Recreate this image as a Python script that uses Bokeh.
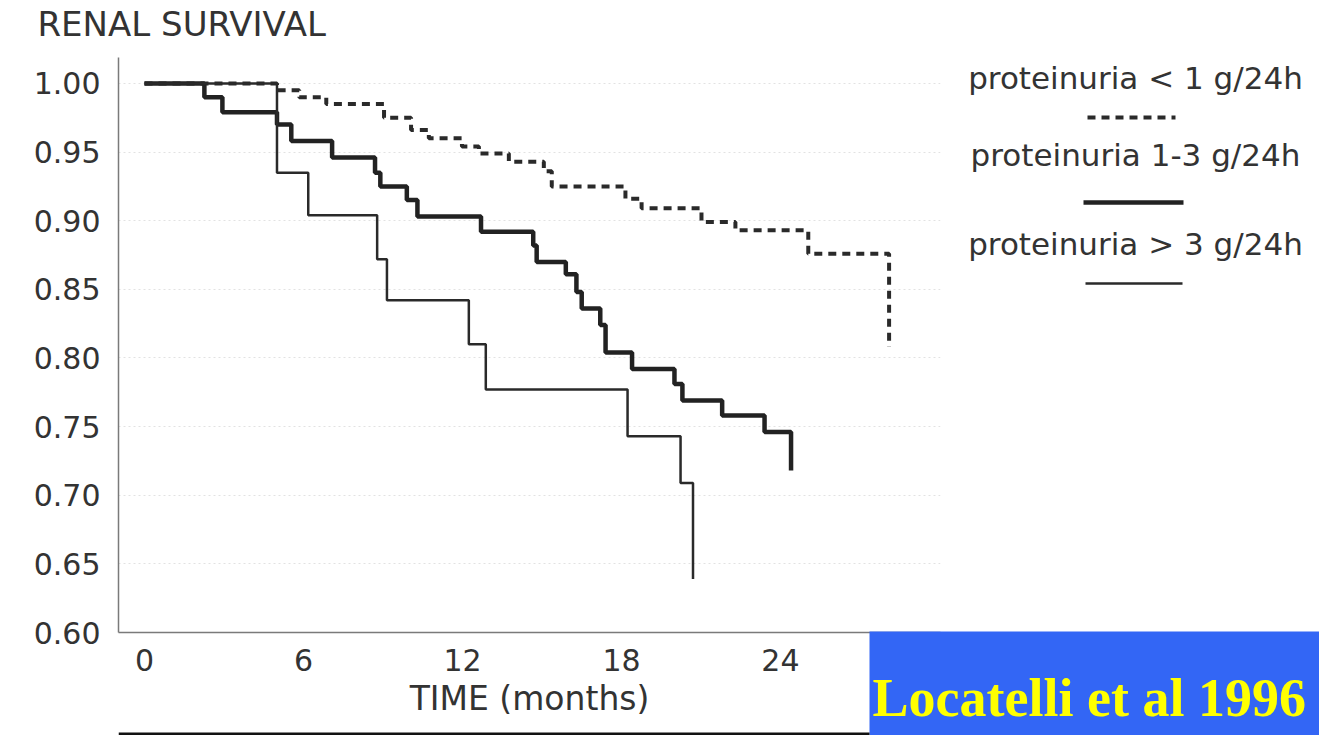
from bokeh.plotting import figure
from bokeh.models import (Label, BoxAnnotation, Arrow, Range1d, FixedTicker,
                          NumeralTickFormatter, GridBox, Title)
from bokeh.embed import file_html
from bokeh.resources import INLINE

# ---------------- data ----------------
time_lt1 = [0, 5.0, 5.84, 6.86, 9.04, 10.06, 10.73, 11.98, 12.62, 13.75, 15.07, 15.37,
            18.15, 18.76, 21.02, 22.3, 25.05, 28.1]
surv_lt1 = [1.0, 0.995, 0.99, 0.985, 0.975, 0.966, 0.96, 0.954, 0.949, 0.943, 0.936, 0.925,
            0.916, 0.909, 0.899, 0.893, 0.876, 0.808]

time_1to3 = [0, 2.26, 2.94, 5.0, 5.54, 7.08, 8.7, 8.9, 9.9, 10.3, 12.7, 14.67, 14.8, 15.9,
             16.3, 16.5, 17.2, 17.4, 18.4, 20.0, 20.3, 21.8, 23.4, 24.4]
surv_1to3 = [1.0, 0.990, 0.979, 0.970, 0.958, 0.946, 0.935, 0.925, 0.915, 0.903, 0.892, 0.882,
             0.870, 0.861, 0.848, 0.836, 0.824, 0.804, 0.792, 0.781, 0.769, 0.758, 0.746, 0.718]

time_gt3 = [0, 5.0, 6.18, 8.78, 9.15, 12.24, 12.88, 18.23, 20.23, 20.7]
surv_gt3 = [1.0, 0.935, 0.904, 0.872, 0.842, 0.81, 0.777, 0.743, 0.709, 0.639]

x_ticks = [0, 6, 12, 18, 24]
y_ticks = [0.60, 0.65, 0.70, 0.75, 0.80, 0.85, 0.90, 0.95, 1.00]
legend_labels = ["proteinuria < 1 g/24h", "proteinuria 1-3 g/24h", "proteinuria > 3 g/24h"]
title_text = "RENAL SURVIVAL"
x_title = "TIME (months)"
citation = "Locatelli et al 1996"

# ---------------- layout ----------------
W, H = 1319, 735
FL, FR, FT, FB = 118, 940, 57, 632
X0, X1 = -0.981, 30.04
Y0, Y1 = 0.60, 1.0189

TXT = "#333333"
FONT = "DejaVu Sans"

# main chart
p = figure(width=W, height=H, frame_width=FR - FL, frame_height=FB - FT,
           x_range=Range1d(X0, X1), y_range=Range1d(Y0, Y1),
           output_backend="svg", toolbar_location=None, title=None)
# spacer (closest to the frame), then the real title above it
p.add_layout(Title(text=" ", text_font_size="1px", standoff=10), "above")
p.add_layout(Title(text=title_text, align="left", offset=37 - FL, standoff=2,
                   text_font=FONT, text_font_size="34px", text_font_style="normal",
                   text_color=TXT), "above")
p.min_border_left = FL
p.min_border_right = W - FR
p.min_border_top = FT
p.min_border_bottom = H - FB
p.outline_line_color = None
p.background_fill_color = "white"
p.border_fill_color = "white"

for ax in (p.xaxis[0], p.yaxis[0]):
    ax.axis_line_color = "#7a7a7a"
    ax.axis_line_width = 1.5
    ax.major_tick_line_color = None
    ax.minor_tick_line_color = None
    ax.major_label_text_font = FONT
    ax.major_label_text_color = TXT
    ax.major_label_text_font_size = "30px"

p.xaxis.ticker = FixedTicker(ticks=x_ticks)
p.yaxis.ticker = FixedTicker(ticks=y_ticks)
p.yaxis.formatter = NumeralTickFormatter(format="0.00")
p.yaxis.major_label_standoff = 12
p.xaxis.major_label_standoff = 10
p.xaxis.axis_label = x_title
p.xaxis.axis_label_text_font = FONT
p.xaxis.axis_label_text_font_style = "normal"
p.xaxis.axis_label_text_font_size = "33px"
p.xaxis.axis_label_text_color = TXT
p.xaxis.axis_label_standoff = 5

p.xgrid.grid_line_color = None
p.ygrid.grid_line_color = "#e2e2e2"
p.ygrid.grid_line_dash = "2 3"

p.step(time_lt1, surv_lt1, mode="after", line_color="#2a2a2a", line_width=4, line_dash="8 6")
p.step(time_1to3, surv_1to3, mode="after", line_color="#222222", line_width=4.5)
p.step(time_gt3, surv_gt3, mode="after", line_color="#2a2a2a", line_width=2.5)

# transparent overlay in pixel space (frame aligned with the main frame's top-left)
q = figure(width=W, height=H, frame_width=W - FL, frame_height=H - FT,
           x_range=Range1d(FL, W), y_range=Range1d(H, FT),
           x_axis_type=None, y_axis_type=None,
           output_backend="svg", toolbar_location=None, title=None)
q.min_border_left = FL
q.min_border_top = FT
q.min_border_right = 0
q.min_border_bottom = 0
q.outline_line_color = None
q.background_fill_alpha = 0
q.border_fill_alpha = 0
q.xgrid.visible = False
q.ygrid.visible = False

leg_cx = 1135
leg_base = [77, 154, 243]
leg_line_y = [117, 202, 283]
leg_styles = [dict(line_width=4, line_dash="8 6", line_color="#2a2a2a"),
              dict(line_width=4.5, line_color="#222222"),
              dict(line_width=2.5, line_color="#2a2a2a")]
leg_line_x = [(1087, 1175), (1083, 1183), (1085, 1182)]
for lab, b, ly, st, (lx0, lx1) in zip(legend_labels, leg_base, leg_line_y, leg_styles, leg_line_x):
    q.add_layout(Label(x=leg_cx, y=b, text=lab, text_font=FONT, text_font_size="31px",
                       text_color=TXT, text_align="center", text_baseline="alphabetic"))
    q.add_layout(Arrow(end=None, start=None, x_start=lx0, y_start=ly,
                       x_end=lx1, y_end=ly, **st))

q.add_layout(BoxAnnotation(left=869, right=W, top=631, bottom=H,
                           fill_color="#3366f5", fill_alpha=1.0, line_color=None))
q.add_layout(BoxAnnotation(left=FL, right=869, top=732, bottom=H,
                           fill_color="#111111", fill_alpha=1.0, line_color=None))
q.add_layout(Label(x=872, y=697, text=citation, text_font="Liberation Serif",
                   text_font_style="bold", text_font_size="54px", text_color="#ffff00",
                   text_baseline="alphabetic"))

layout = GridBox(children=[(p, 0, 0), (q, 0, 0)])

open("out.html", "w").write(file_html(layout, INLINE))
